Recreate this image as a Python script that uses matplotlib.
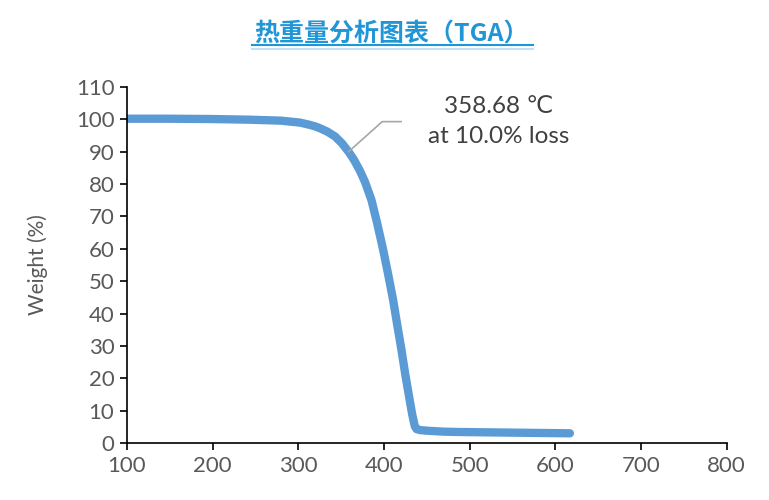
import matplotlib
matplotlib.use("Agg")
import matplotlib.pyplot as plt
from matplotlib.lines import Line2D

# 曲线数据 (温度 / 重量%)
temp = [100, 150, 200, 243, 280, 302, 312, 320, 325, 334, 343, 351, 358.68, 365, 372,
        378, 385.5, 392, 399, 405, 410.7, 415.5, 420.5, 425, 430, 433, 436, 438, 442,
        450, 470, 488, 550, 617]
weight = [100.2, 100.2, 100.1, 99.9, 99.6, 99.0, 98.4, 97.8, 97.3, 96.2, 94.7, 92.6, 90.0,
          87.5, 84.1, 80.6, 75.0, 68.0, 59.8, 52.0, 44.2, 36.5, 28.7, 21.0, 13.3, 8.8,
          5.2, 4.3, 4.0, 3.8, 3.5, 3.4, 3.2, 3.0]

x_ticks = [100, 200, 300, 400, 500, 600, 700, 800]
y_ticks = [0, 10, 20, 30, 40, 50, 60, 70, 80, 90, 100, 110]

title = "热重量分析图表（TGA）"
ylabel = "Weight (%)"
note = "358.68 ℃\nat 10.0% loss"

plt.rcParams['font.family'] = ['Lato', 'DejaVu Sans']

fig = plt.figure(figsize=(7.69, 5.0), dpi=100)
ax = fig.add_axes([0.165, 0.114, 0.78, 0.712])

ax.plot(temp, weight, color='#5B9BD5', linewidth=6, solid_capstyle='round',
        solid_joinstyle='round')

ax.set_xlim(100, 800)
ax.set_ylim(0, 110)
ax.set_xticks(x_ticks)
ax.set_yticks(y_ticks)
ax.tick_params(axis='both', direction='out', length=5, width=1.2, color='black',
               labelsize=16, labelcolor='#595959', pad=4)
for s in ['top', 'right']:
    ax.spines[s].set_visible(False)
for s in ['left', 'bottom']:
    ax.spines[s].set_color('black')
    ax.spines[s].set_linewidth(1.2)

ax.set_ylabel(ylabel, fontsize=15, color='#595959', labelpad=20)

# 注释引线
ax.plot([358.68, 398, 420], [90.0, 99.3, 99.3], color='#A6A6A6', linewidth=1.2)
ax.text(534, 99.3, note, ha='center', va='center', fontsize=17.5, color='#404040',
        linespacing=1.5)

# 标题 + 下划线
fig.text(0.509, 0.932, title, ha='center', va='center', fontsize=18, fontweight='bold',
         color='#2196D6', family=['Noto Sans CJK SC', 'DejaVu Sans'])
fig.add_artist(Line2D([0.328, 0.693], [0.91, 0.91], color='#2196D6', linewidth=1.5))
fig.add_artist(Line2D([0.328, 0.693], [0.902, 0.902], color='#BFE3F5', linewidth=1.5))

fig.savefig('out.png', dpi=100)
